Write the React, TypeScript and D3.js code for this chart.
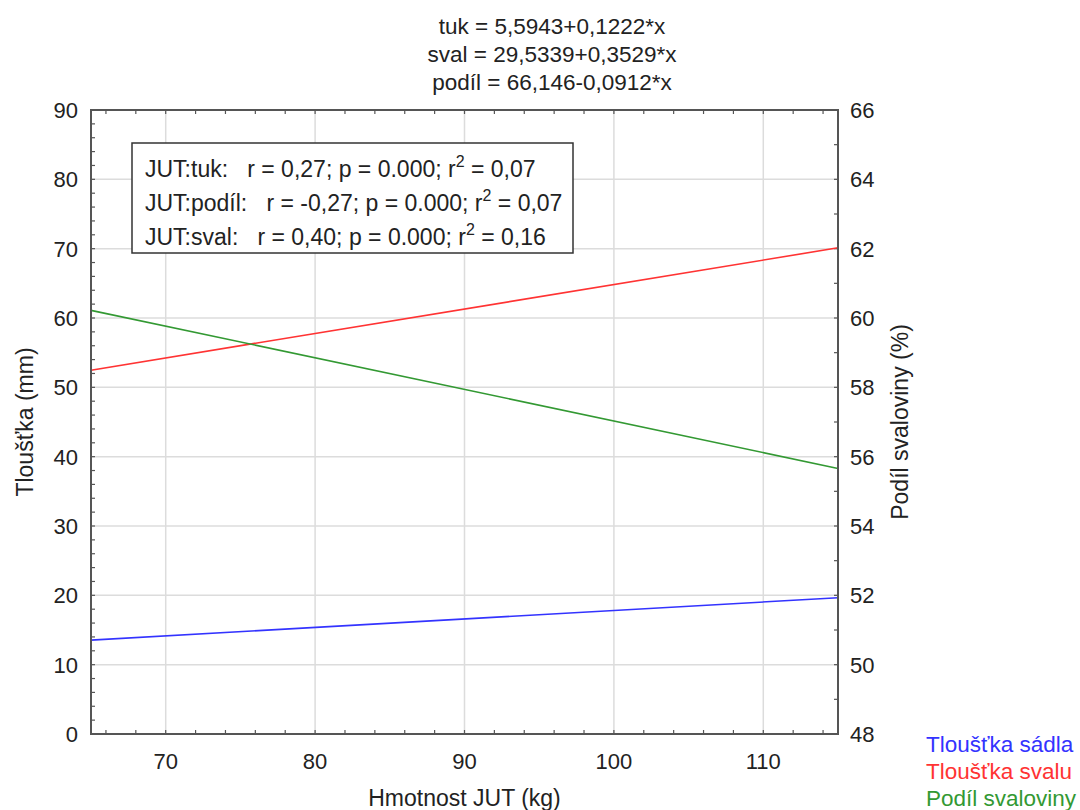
import React, { useEffect, useRef } from 'react';
import * as d3 from 'd3';

// data
const xEnds = [65, 115];
const tukValues = [13.54, 19.65];
const svalValues = [52.47, 70.12];
const podilValues = [60.22, 55.66];

const xTicks = [70, 80, 90, 100, 110];
const leftTicks = [0, 10, 20, 30, 40, 50, 60, 70, 80, 90];
const rightTicks = [48, 50, 52, 54, 56, 58, 60, 62, 64, 66];

const titleLines = ['tuk = 5,5943+0,1222*x', 'sval = 29,5339+0,3529*x', 'podíl = 66,146-0,0912*x'];
const statLabels = ['JUT:tuk:', 'JUT:podíl:', 'JUT:sval:'];
const statValues = ['r = 0,27; p = 0.000; r', 'r = -0,27; p = 0.000; r', 'r = 0,40; p = 0.000; r'];
const statR2 = ['0,07', '0,07', '0,16'];
const legendNames = ['Tloušťka sádla', 'Tloušťka svalu', 'Podíl svaloviny'];
const legendColors = ['#3333ff', '#ff3333', '#339933'];

function App() {
    const svgRef = useRef<SVGSVGElement>(null);

    useEffect(() => {
        const svg = d3.select(svgRef.current);
        svg.selectAll('*').remove();

        const width = 1080;
        const height = 810;
        const margin = { top: 110, right: 242, bottom: 76, left: 91 };
        const font = 'Liberation Sans, Arial, sans-serif';
        const axisColor = '#555';
        const textColor = '#222';

        const x = d3.scaleLinear().domain([65, 115]).range([margin.left, width - margin.right]);
        const yL = d3.scaleLinear().domain([0, 90]).range([height - margin.bottom, margin.top]);
        const yR = d3.scaleLinear().domain([48, 66]).range([height - margin.bottom, margin.top]);

        const x0 = margin.left, x1 = width - margin.right;
        const y0 = height - margin.bottom, y1 = margin.top;

        // grid
        svg.append('g').selectAll('line')
            .data(xTicks).enter().append('line')
            .attr('x1', d => x(d)).attr('x2', d => x(d))
            .attr('y1', y1).attr('y2', y0)
            .attr('stroke', '#dcdcdc').attr('stroke-width', 1.5);
        svg.append('g').selectAll('line')
            .data(leftTicks.slice(1, -1)).enter().append('line')
            .attr('x1', x0).attr('x2', x1)
            .attr('y1', d => yL(d)).attr('y2', d => yL(d))
            .attr('stroke', '#dcdcdc').attr('stroke-width', 1.5);

        // minor/major inward ticks
        const tickG = svg.append('g').attr('stroke', axisColor).attr('stroke-width', 1.2);
        d3.range(66, 115, 2).forEach(v => {
            tickG.append('line').attr('x1', x(v)).attr('x2', x(v)).attr('y1', y0).attr('y2', y0 - 4);
            tickG.append('line').attr('x1', x(v)).attr('x2', x(v)).attr('y1', y1).attr('y2', y1 + 4);
        });
        d3.range(0, 91, 2).forEach(v => {
            tickG.append('line').attr('x1', x0).attr('x2', x0 + 4).attr('y1', yL(v)).attr('y2', yL(v));
        });
        d3.range(48, 67, 1).forEach(v => {
            tickG.append('line').attr('x1', x1).attr('x2', x1 - 4).attr('y1', yR(v)).attr('y2', yR(v));
        });

        // lines
        const line = (scale: d3.ScaleLinear<number, number>) => d3.line<number>()
            .x((_, i) => x(xEnds[i]))
            .y(d => scale(d));
        [[tukValues, yL], [svalValues, yL], [podilValues, yR]].forEach(([vals, scale]: any, i) => {
            svg.append('path')
                .datum(vals)
                .attr('fill', 'none')
                .attr('stroke', legendColors[i])
                .attr('stroke-width', 1.6)
                .attr('d', line(scale));
        });

        // frame
        svg.append('rect')
            .attr('x', x0).attr('y', y1)
            .attr('width', x1 - x0).attr('height', y0 - y1)
            .attr('fill', 'none').attr('stroke', axisColor).attr('stroke-width', 2);

        // tick labels
        const labelStyle = (size: number) => (sel: any) => sel
            .style('font-family', font).style('font-size', size + 'px').style('fill', textColor);
        svg.append('g').selectAll('text')
            .data(xTicks).enter().append('text')
            .attr('x', d => x(d)).attr('y', y0 + 35)
            .attr('text-anchor', 'middle')
            .call(labelStyle(22))
            .text(d => d);
        svg.append('g').selectAll('text')
            .data(leftTicks).enter().append('text')
            .attr('x', x0 - 13).attr('y', d => yL(d)).attr('dy', '0.36em')
            .attr('text-anchor', 'end')
            .call(labelStyle(22))
            .text(d => d);
        svg.append('g').selectAll('text')
            .data(rightTicks).enter().append('text')
            .attr('x', x1 + 12).attr('y', d => yR(d)).attr('dy', '0.36em')
            .attr('text-anchor', 'start')
            .call(labelStyle(22))
            .text(d => d);

        // axis titles
        svg.append('text')
            .attr('transform', `translate(33,${(y0 + y1) / 2}) rotate(-90)`)
            .attr('text-anchor', 'middle')
            .call(labelStyle(23))
            .text('Tloušťka (mm)');
        svg.append('text')
            .attr('transform', `translate(908,${(y0 + y1) / 2}) rotate(-90)`)
            .attr('text-anchor', 'middle')
            .call(labelStyle(23))
            .text('Podíl svaloviny (%)');
        svg.append('text')
            .attr('x', (x0 + x1) / 2).attr('y', 806)
            .attr('text-anchor', 'middle')
            .call(labelStyle(23))
            .text('Hmotnost JUT (kg)');

        // equations on top, centered on the page
        svg.append('g').selectAll('text')
            .data(titleLines).enter().append('text')
            .attr('x', 552).attr('y', (_, i) => 34 + i * 28)
            .attr('text-anchor', 'middle')
            .call(labelStyle(22.5))
            .text(d => d);

        // stats box
        svg.append('rect')
            .attr('x', 132).attr('y', 143).attr('width', 441).attr('height', 110)
            .attr('fill', 'white').attr('stroke', '#333').attr('stroke-width', 1.5);
        statLabels.forEach((lab, i) => {
            const t = svg.append('text')
                .attr('x', 145).attr('y', 177 + i * 34)
                .attr('xml:space', 'preserve')
                .style('white-space', 'pre')
                .call(labelStyle(23));
            t.append('tspan').text(lab + '   ' + statValues[i]);
            t.append('tspan').attr('dy', -10).style('font-size', '16px').text('2');
            t.append('tspan').attr('dy', 10).text(' = ' + statR2[i]);
        });

        // legend
        svg.append('g').selectAll('text')
            .data(legendNames).enter().append('text')
            .attr('x', 926).attr('y', (_, i) => 752 + i * 27)
            .style('font-family', font).style('font-size', '22.5px')
            .style('fill', (_, i) => legendColors[i])
            .text(d => d);
    }, []);

    return (
        <svg ref={svgRef} width={1080} height={810}
            style={{ position: 'absolute', left: 0, top: 0, background: 'white' }}></svg>
    );
}

export default App;
